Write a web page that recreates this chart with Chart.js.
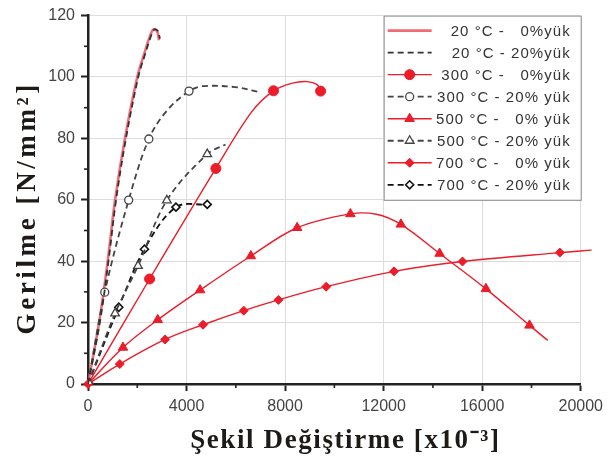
<!DOCTYPE html>
<html>
<head>
<meta charset="utf-8">
<script src="https://cdn.jsdelivr.net/npm/chart.js@4.4.1/dist/chart.umd.min.js"></script>
<style>
  html, body { margin: 0; padding: 0; background: #fff; }
</style>
</head>
<body>
<canvas id="grafik" width="609" height="464"></canvas>
<script>
// --- data (x in 10^-3 strain units, y in N/mm2) ---
const x20_0  = [0, 450, 800, 1100, 1500, 2000, 2300, 2500, 2650, 2800, 2880];
const y20_0  = [0, 20, 40, 60, 80, 100, 108, 113, 115.5, 115, 112];
const x20_20 = [0, 480, 830, 1140, 1540, 2040, 2340, 2540, 2690, 2830, 2920];
const y20_20 = [0, 20, 40, 60, 80, 100, 108, 113, 115.5, 115, 112.5];

const x300_0  = [0, 2500, 5190, 6650, 7530, 8300, 8900, 9300, 9440];
const y300_0  = [0, 34.2, 70.2, 88.7, 95.5, 98, 98.5, 97.5, 95.4];
const m300_0  = [0, 1, 2, 4, 8];
const x300_20 = [0, 680, 1650, 2470, 3200, 4100, 4650, 5980, 7000];
const y300_20 = [0, 29.9, 59.9, 79.8, 89, 95.4, 97, 96.7, 95];
const m300_20 = [0, 1, 2, 3, 5];

const x500_0  = [0, 1420, 2830, 4550, 6610, 8490, 10650, 11700, 12700, 14270, 16150, 17920, 18660];
const y500_0  = [0, 11.9, 20.9, 30.6, 41.7, 50.9, 55.4, 55.3, 52, 42.5, 31, 19.1, 14.2];
const m500_0  = [0, 1, 2, 3, 4, 5, 6, 8, 9, 10, 11];
const x500_20 = [0, 1100, 2030, 3200, 4840, 5580];
const y500_20 = [0, 23, 38.5, 59.8, 74.9, 78];
const m500_20 = [0, 1, 2, 3, 4];

const x700_0  = [0, 1290, 3130, 4670, 6320, 7730, 9670, 12420, 15200, 19150, 20440];
const y700_0  = [0, 6.5, 14.5, 19.3, 23.9, 27.4, 31.7, 36.7, 39.9, 42.8, 43.6];
const m700_0  = [0, 1, 2, 3, 4, 5, 6, 7, 8, 9];
const x700_20 = [0, 1250, 2290, 3570, 4840];
const y700_20 = [0, 25, 43.9, 57.6, 58.5];
const m700_20 = [0, 1, 2, 3, 4];

const label = [
  '20 °C -   0%yük', '20 °C - 20%yük',
  '300 °C -   0%yük', '300 °C - 20% yük',
  '500 °C -   0% yük', '500 °C - 20% yük',
  '700 °C -   0% yük', '700 °C - 20% yük'
];

const yTicks = [0, 20, 40, 60, 80, 100, 120];
const xTicks = [0, 4000, 8000, 12000, 16000, 20000];
const judulX = 'Şekil Değiştirme [x10⁻³]';
const judulY = 'Gerilme [N/mm²]';

const MERAH = '#ec1c2a';
const HITAM = '#333333';

function titik(xs, ys) {
  return xs.map((v, i) => ({ x: v, y: ys[i] }));
}

function seri(idx, xs, ys, marks, opsi) {
  return Object.assign({
    label: label[idx],
    data: titik(xs, ys),
    showLine: true,
    tension: 0.35,
    pointRadius: ctx => (marks && marks.includes(ctx.dataIndex)) ? opsi.r : 0,
    pointHoverRadius: 0,
  }, opsi);
}

const datasets = [
  seri(0, x20_0, y20_0, null, { r: 0, borderColor: 'rgba(238,80,92,0.85)', borderWidth: 2.6, order: 3 }),
  seri(1, x20_20, y20_20, null, { r: 0, borderColor: HITAM, borderWidth: 1.8, borderDash: [6, 4], order: 1 }),
  seri(2, x300_0, y300_0, m300_0, { r: 5, pointStyle: 'circle', borderColor: MERAH, backgroundColor: MERAH, pointBorderWidth: 1, borderWidth: 1.4, order: 2 }),
  seri(3, x300_20, y300_20, m300_20, { r: 4, pointStyle: 'circle', borderColor: '#444', backgroundColor: '#fff', pointBorderWidth: 1.3, borderWidth: 1.8, borderDash: [6, 4], order: 1 }),
  seri(4, x500_0, y500_0, m500_0, { r: 5.5, pointStyle: 'triangle', borderColor: MERAH, backgroundColor: MERAH, pointBorderWidth: 1, borderWidth: 1.4, order: 2 }),
  seri(5, x500_20, y500_20, m500_20, { r: 5, pointStyle: 'triangle', borderColor: '#444', backgroundColor: '#fff', pointBorderWidth: 1.3, borderWidth: 1.8, borderDash: [6, 4], order: 1 }),
  seri(6, x700_0, y700_0, m700_0, { r: 4.5, pointStyle: 'rectRot', borderColor: MERAH, backgroundColor: MERAH, pointBorderWidth: 1, borderWidth: 1.4, order: 2, clip: false }),
  seri(7, x700_20, y700_20, m700_20, { r: 4, pointStyle: 'rectRot', borderColor: '#111', backgroundColor: '#fff', pointBorderWidth: 1.6, borderWidth: 1.8, borderDash: [6, 4], order: 1 })
];

// small ticks between the labelled ones
const tickKecil = {
  id: 'tickKecil',
  afterDraw(chart) {
    const { ctx, scales: { x, y } } = chart;
    ctx.save();
    ctx.strokeStyle = '#222';
    ctx.lineWidth = 1.6;
    for (let i = 0; i < yTicks.length - 1; i++) {
      const py = y.getPixelForValue((yTicks[i] + yTicks[i + 1]) / 2);
      ctx.beginPath(); ctx.moveTo(x.left - 4, py); ctx.lineTo(x.left, py); ctx.stroke();
    }
    for (let i = 0; i < xTicks.length - 1; i++) {
      const px = x.getPixelForValue((xTicks[i] + xTicks[i + 1]) / 2);
      ctx.beginPath(); ctx.moveTo(px, y.bottom); ctx.lineTo(px, y.bottom + 4); ctx.stroke();
    }
    ctx.restore();
  }
};

// axis titles, drawn by hand so the letters can be spaced out like the original
const judulSumbu = {
  id: 'judulSumbu',
  afterDraw(chart) {
    const { ctx, chartArea } = chart;
    ctx.save();
    ctx.fillStyle = '#1e1a18';
    ctx.textAlign = 'center';
    ctx.textBaseline = 'middle';
    ctx.font = 'bold 27px "Liberation Serif", "Times New Roman", serif';
    ctx.letterSpacing = '1.6px';
    ctx.fillText(judulX, (chartArea.left + chartArea.right) / 2 + 11, 441);
    ctx.translate(28, (chartArea.top + chartArea.bottom) / 2 + 8);
    ctx.rotate(-Math.PI / 2);
    ctx.letterSpacing = '3.6px';
    ctx.fillText(judulY, 0, 0);
    ctx.restore();
  }
};

// boxed legend sitting in the upper right grid cell
const legendKotak = {
  id: 'legendKotak',
  afterDraw(chart) {
    const { ctx, scales: { x, y } } = chart;
    const kiri = x.getPixelForValue(12000), kanan = x.getPixelForValue(20000);
    const atas = y.getPixelForValue(120), bawah = y.getPixelForValue(60);
    ctx.save();
    ctx.fillStyle = '#fff';
    ctx.fillRect(kiri, atas, kanan - kiri, bawah - atas);
    ctx.strokeStyle = '#8a8a8a';
    ctx.lineWidth = 1;
    ctx.strokeRect(kiri + 0.5, atas + 0.5, kanan - kiri, bawah - atas);
    const tinggi = (bawah - atas - 8) / datasets.length;
    datasets.forEach((ds, i) => {
      const cy = atas + 4 + tinggi * (i + 0.5);
      ctx.save();
      ctx.strokeStyle = ds.borderColor;
      ctx.lineWidth = ds.borderWidth;
      ctx.setLineDash(ds.borderDash || []);
      ctx.beginPath(); ctx.moveTo(kiri + 4, cy); ctx.lineTo(kiri + 48, cy); ctx.stroke();
      ctx.setLineDash([]);
      if (ds.r > 0) {
        ctx.fillStyle = ds.backgroundColor;
        ctx.strokeStyle = ds.borderColor;
        ctx.lineWidth = ds.pointBorderWidth;
        Chart.helpers.drawPoint(ctx, { pointStyle: ds.pointStyle, radius: ds.r, borderWidth: ds.pointBorderWidth, rotation: 0 }, kiri + 26, cy);
      }
      ctx.restore();
      ctx.fillStyle = '#333';
      ctx.font = '15px "Liberation Sans", Arial, sans-serif';
      ctx.letterSpacing = '1.05px';
      ctx.textAlign = 'right';
      ctx.textBaseline = 'middle';
      ctx.fillText(ds.label, kanan - 10, cy + 1);
    });
    ctx.restore();
  }
};

new Chart(document.getElementById('grafik'), {
  type: 'scatter',
  data: { datasets: datasets },
  options: {
    responsive: false,
    animation: false,
    layout: { padding: { top: 13, right: 24, left: 0, bottom: 0 } },
    plugins: { legend: { display: false }, tooltip: { enabled: false } },
    scales: {
      x: {
        type: 'linear', min: 0, max: 20000,
        afterFit: s => { s.height = 80; },
        afterBuildTicks: s => { s.ticks = xTicks.map(v => ({ value: v })); },
        ticks: { color: '#444', padding: 6, font: { family: '"Liberation Sans", Arial', size: 16 }, callback: v => v },
        grid: { color: '#dcdcdc', lineWidth: 1, tickLength: 7, tickColor: '#222', tickWidth: 2 },
        border: { color: '#222', width: 2.5 }
      },
      y: {
        type: 'linear', min: 0, max: 120,
        afterFit: s => { s.width = 88; },
        afterBuildTicks: s => { s.ticks = yTicks.map(v => ({ value: v })); },
        ticks: { color: '#444', padding: 6, font: { family: '"Liberation Sans", Arial', size: 16 } },
        grid: { color: '#dcdcdc', lineWidth: 1, tickLength: 7, tickColor: '#222', tickWidth: 2 },
        border: { color: '#222', width: 2.5 }
      }
    }
  },
  plugins: [tickKecil, judulSumbu, legendKotak]
});
</script>
</body>
</html>
